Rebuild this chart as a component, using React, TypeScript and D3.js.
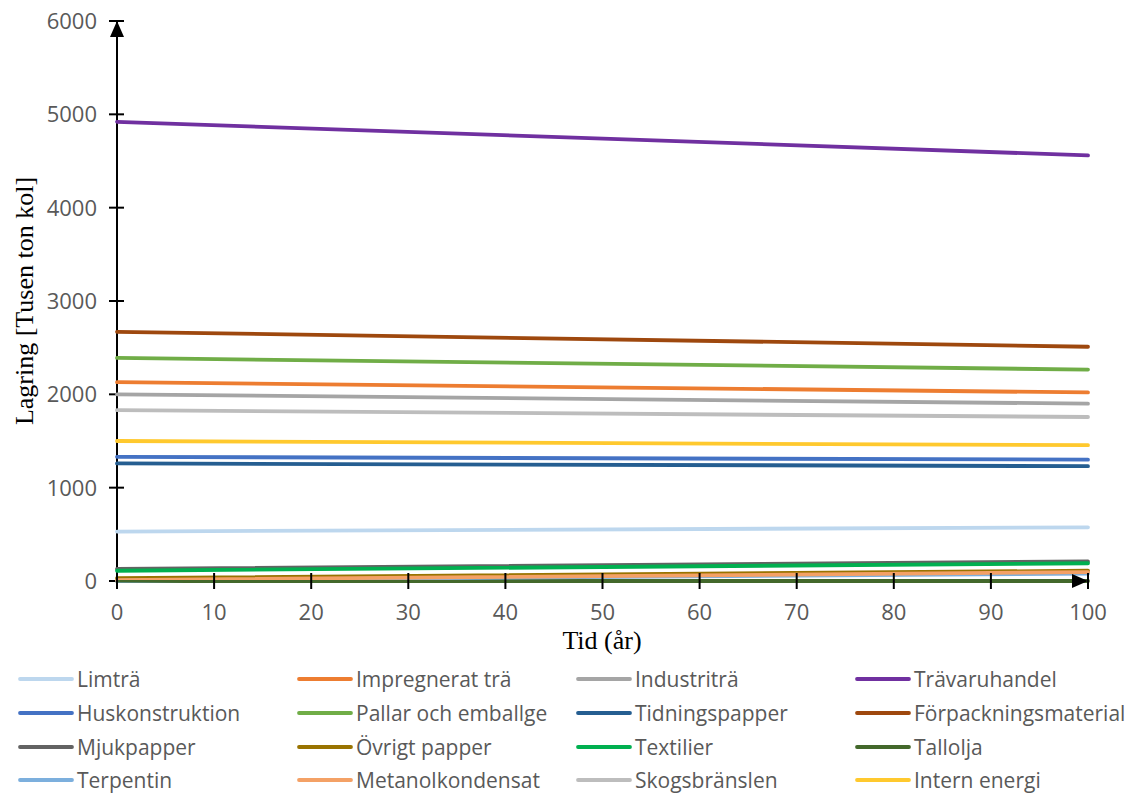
import React from "react";
import * as d3 from "d3";

// Carbon storage per product category over time (thousand tonnes C)
const years = [0, 100];
const seriesNames = [
  "Limträ",
  "Impregnerat trä",
  "Industriträ",
  "Trävaruhandel",
  "Huskonstruktion",
  "Pallar och emballge",
  "Tidningspapper",
  "Förpackningsmaterial",
  "Mjukpapper",
  "Övrigt papper",
  "Textilier",
  "Tallolja",
  "Terpentin",
  "Metanolkondensat",
  "Skogsbränslen",
  "Intern energi",
];
const startValues = [530, 2130, 2000, 4920, 1330, 2390, 1260, 2670, 130, 30, 110, 0, 5, 10, 1830, 1500];
const endValues = [575, 2020, 1900, 4560, 1300, 2265, 1230, 2510, 210, 110, 190, 0, 80, 95, 1757, 1455];
const seriesColors = [
  "#BDD7EE",
  "#ED7D31",
  "#A5A5A5",
  "#7030A0",
  "#4472C4",
  "#70AD47",
  "#255E91",
  "#9E480E",
  "#636363",
  "#997300",
  "#00B050",
  "#43682B",
  "#7CAFDD",
  "#F4A166",
  "#BDBDBD",
  "#FFC92E",
];
const xTicks = [0, 10, 20, 30, 40, 50, 60, 70, 80, 90, 100];
const yTicks = [0, 1000, 2000, 3000, 4000, 5000, 6000];

const W = 1128;
const H = 796;
const font = "'Open Sans', 'Noto Sans', sans-serif";
const serif = "'Liberation Serif', 'DejaVu Serif', serif";

export default function App() {
  const x = d3.scaleLinear().domain([0, 100]).range([117, 1088]);
  const y = d3.scaleLinear().domain([0, 6000]).range([581, 21]);
  const line = d3
    .line<[number, number]>()
    .x((d) => x(d[0]))
    .y((d) => y(d[1]));

  const series = seriesNames.map((name, i) => ({
    name,
    color: seriesColors[i],
    points: years.map((yr, j) => [yr, j === 0 ? startValues[i] : endValues[i]] as [number, number]),
  }));

  const legendCols = [20, 299, 578, 857];
  const legendRows = [679, 713, 747, 780];

  return (
    <svg
      width={W}
      height={H}
      style={{ position: "absolute", left: 0, top: 0, background: "#fff" }}
    >
      <rect width={W} height={H} fill="#fff" />

      {/* y-axis tick labels */}
      {yTicks.map((t) => (
        <text
          key={"yl" + t}
          x={97}
          y={y(t)}
          dy="0.36em"
          textAnchor="end"
          fontFamily={font}
          fontSize={22}
          fill="#595959"
        >
          {t}
        </text>
      ))}
      {/* x-axis tick labels */}
      {xTicks.map((t) => (
        <text
          key={"xl" + t}
          x={x(t)}
          y={612}
          dy="0.36em"
          textAnchor="middle"
          fontFamily={font}
          fontSize={22}
          fill="#595959"
        >
          {t}
        </text>
      ))}

      {/* axes */}
      <line x1={x(0)} x2={x(0)} y1={y(0)} y2={y(6000)} stroke="#000" strokeWidth={2} />
      {yTicks.map((t) => (
        <line key={"yt" + t} x1={109} x2={124} y1={y(t)} y2={y(t)} stroke="#000" strokeWidth={2} />
      ))}
      <path
        d={`M${x(0)},${y(6000)} L${x(0) - 7},${y(6000) + 16} L${x(0) + 7},${y(6000) + 16} Z`}
        fill="#000"
      />

      {/* series lines */}
      {series.map((s) => (
        <path
          key={s.name}
          d={line(s.points) || ""}
          fill="none"
          stroke={s.color}
          strokeWidth={3.8}
          strokeLinecap="round"
        />
      ))}

      <line x1={x(0)} x2={x(100)} y1={y(0)} y2={y(0)} stroke="#43682B" strokeWidth={2} />
      {xTicks.map((t) => (
        <line key={"xt" + t} x1={x(t)} x2={x(t)} y1={y(0) - 8} y2={y(0) + 8} stroke="#000" strokeWidth={2} />
      ))}
      <path
        d={`M${x(100)},${y(0)} L${x(100) - 16},${y(0) - 7} L${x(100) - 16},${y(0) + 7} Z`}
        fill="#000"
      />

      {/* axis titles */}
      <text
        x={602}
        y={640}
        dy="0.35em"
        textAnchor="middle"
        fontFamily={serif}
        fontSize={26}
        fill="#000"
      >
        Tid (år)
      </text>
      <text
        transform={`translate(24,301) rotate(-90)`}
        dy="0.35em"
        textAnchor="middle"
        fontFamily={serif}
        fontSize={26}
        fill="#000"
      >
        Lagring [Tusen ton kol]
      </text>

      {/* legend */}
      {series.map((s, i) => {
        const cx = legendCols[i % 4];
        const cy = legendRows[Math.floor(i / 4)];
        return (
          <g key={"lg" + s.name}>
            <line x1={cx} x2={cx + 52} y1={cy} y2={cy} stroke={s.color} strokeWidth={3.8} strokeLinecap="round" />
            <text
              x={cx + 57}
              y={cy}
              dy="0.36em"
              fontFamily={font}
              fontSize={21}
              fill="#595959"
            >
              {s.name}
            </text>
          </g>
        );
      })}
    </svg>
  );
}
